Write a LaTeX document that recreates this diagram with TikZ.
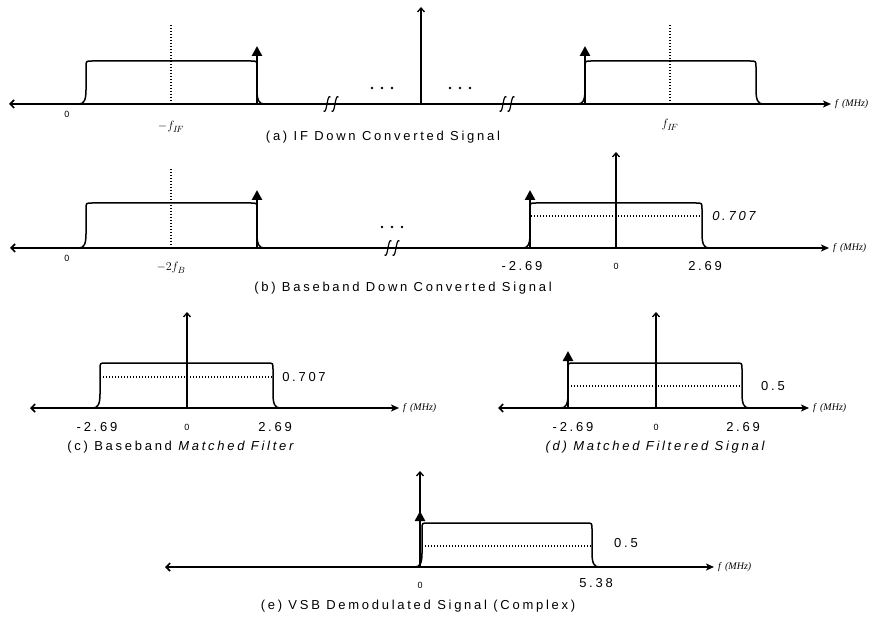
\documentclass[tikz,border=0pt]{standalone}
\usepackage{fontspec}
\setmainfont{Liberation Sans}
\newfontfamily\capfont[LetterSpace=21]{Liberation Sans}
\newfontfamily\serifit{Liberation Serif}
\usetikzlibrary{arrows.meta}
\tikzset{
  axisline/.style={line width=1.6pt, {Straight Barb[length=4pt,width=8pt]}-{Stealth[length=8pt,width=7pt,inset=2pt]}},
  vaxisline/.style={line width=1.3pt, -{Straight Barb[length=4pt,width=7pt]}},
  impulse/.style={line width=2.8pt, -{Triangle[length=10pt,width=10pt]}},
  bandline/.style={line width=1.5pt},
  dotline/.style={line width=1.1pt, dash pattern=on 1pt off 2pt},
  brkline/.style={line width=1.2pt},
  captext/.style={font=\capfont\fontsize{13}{15}\selectfont, inner sep=0},
  numtext/.style={font=\capfont\fontsize{13}{15}\selectfont, inner sep=0},
  zerotext/.style={font=\fontsize{9}{10}\selectfont, inner sep=0},
  mlab/.style={font=\fontsize{13}{15}\selectfont, inner sep=0},
  unittext/.style={font=\serifit\itshape\fontsize{10}{12}\selectfont, anchor=west, inner sep=0},
}
\newcommand\drawband[4]{%
  \draw[bandline] (#1,#4) .. controls ({#1+5},#4) and ({#1+7},{#4-4}) .. ({#1+7},{#4-14})
    -- ({#1+7},{#3+6}) .. controls ({#1+7},#3) .. ({#1+13},#3)
    -- ({#2-13},#3) .. controls ({#2-7},#3) .. ({#2-7},{#3+6})
    -- ({#2-7},{#4-14}) .. controls ({#2-7},{#4-4}) and ({#2-5},#4) .. (#2,#4);}
\newcommand\brkmark[2]{%
  \draw[brkline] ({#1-3.5},{#2+7}) .. controls ({#1-1.5},{#2+9}) and ({#1-0.8},{#2+4}) .. (#1,#2)
    .. controls ({#1+0.8},{#2-4}) and ({#1+1.5},{#2-9}) .. ({#1+3.5},{#2-7});}
\newcommand\threedots[2]{%
  \fill ({#1-10},#2) circle (1.3) (#1,#2) circle (1.3) ({#1+10},#2) circle (1.3);}
\begin{document}
\begin{tikzpicture}[x=1pt,y=-1pt]
\useasboundingbox (0,0) rectangle (888,617);
% ---------------- (a) ----------------
\coordinate (aL) at (9,104); \coordinate (aR) at (831,104);
\draw[axisline] (aL) -- (aR);
\coordinate (aO) at (421,104); \coordinate (aT) at (421,7);
\draw[vaxisline] (aO) -- (aT);
\drawband{79}{264}{61}{104}
\drawband{578}{763}{61}{104}
\coordinate (aI1b) at (257,104); \coordinate (aI1t) at (257,46);
\draw[impulse] (aI1b) -- (aI1t);
\coordinate (aI2b) at (585,104); \coordinate (aI2t) at (585,46);
\draw[impulse] (aI2b) -- (aI2t);
\coordinate (aD1b) at (171,104); \coordinate (aD1t) at (171,24);
\draw[dotline] (aD1b) -- (aD1t);
\coordinate (aD2b) at (670,104); \coordinate (aD2t) at (670,24);
\draw[dotline] (aD2b) -- (aD2t);
\brkmark{327}{104}\brkmark{335}{104}
\brkmark{503}{104}\brkmark{511}{104}
\threedots{382}{88}
\threedots{460}{88}
\node[zerotext] (a0) at (67,114) {0};
\node[mlab] (afm) at (171,127) {$-f_{I\!F}$};
\node[mlab] (afp) at (670,125) {$f_{I\!F}$};
\node[unittext] (aunit) at (835,104) {f\, (MHz)};
\node[captext] (acap) at (383,137) {(a) IF Down Converted Signal};
% ---------------- (b) ----------------
\coordinate (bL) at (10,248); \coordinate (bR) at (829,248);
\draw[axisline] (bL) -- (bR);
\coordinate (bO) at (616,248); \coordinate (bT) at (616,152);
\draw[vaxisline] (bO) -- (bT);
\drawband{79}{264}{203}{248}
\drawband{523}{709}{203}{248}
\coordinate (bI1b) at (257,248); \coordinate (bI1t) at (257,190);
\draw[impulse] (bI1b) -- (bI1t);
\coordinate (bI2b) at (530,248); \coordinate (bI2t) at (530,190);
\draw[impulse] (bI2b) -- (bI2t);
\coordinate (bD1b) at (171,248); \coordinate (bD1t) at (171,168);
\draw[dotline] (bD1b) -- (bD1t);
\coordinate (bH1) at (531,216); \coordinate (bH2) at (702,216);
\draw[dotline] (bH1) -- (bH2);
\brkmark{388}{248}\brkmark{396}{248}
\threedots{392}{227}
\node[zerotext] (b0l) at (67,258) {0};
\node[mlab] (bfm) at (171,268) {$-2f_{B}$};
\node[numtext] (bm) at (522,266) {-2.69};
\node[zerotext] (b0) at (616,266) {0};
\node[numtext] (bp) at (705,266) {2.69};
\node[numtext,font=\capfont\itshape\fontsize{13}{15}\selectfont] (bv) at (734,216) {0.707};
\node[unittext] (bunit) at (833,248) {f\, (MHz)};
\node[captext] (bcap) at (403,288) {(b) Baseband Down Converted Signal};
% ---------------- (c) ----------------
\coordinate (cL) at (30,408); \coordinate (cR) at (399,408);
\draw[axisline] (cL) -- (cR);
\coordinate (cO) at (187,408); \coordinate (cT) at (187,312);
\draw[vaxisline] (cO) -- (cT);
\drawband{93}{280}{363}{408}
\coordinate (cH1) at (100,377); \coordinate (cH2) at (273,377);
\draw[dotline] (cH1) -- (cH2);
\node[numtext] (cm) at (97,427) {-2.69};
\node[zerotext] (c0) at (187,427) {0};
\node[numtext] (cp) at (275,427) {2.69};
\node[numtext] (cv) at (304,377) {0.707};
\node[unittext] (cunit) at (403,408) {f\, (MHz)};
\node[captext] (ccap) at (182,447) {(c) Baseband \textit{Matched Filter}};
% ---------------- (d) ----------------
\coordinate (dL) at (498,408); \coordinate (dR) at (809,408);
\draw[axisline] (dL) -- (dR);
\coordinate (dO) at (656,408); \coordinate (dT) at (656,312);
\draw[vaxisline] (dO) -- (dT);
\drawband{561}{749}{363}{408}
\coordinate (dIb) at (568,408); \coordinate (dIt) at (568,351);
\draw[impulse] (dIb) -- (dIt);
\coordinate (dH1) at (568,386); \coordinate (dH2) at (742,386);
\draw[dotline] (dH1) -- (dH2);
\node[numtext] (dm) at (573,427) {-2.69};
\node[zerotext] (d0) at (656,427) {0};
\node[numtext] (dp) at (743,427) {2.69};
\node[numtext] (dv) at (773,386) {0.5};
\node[unittext] (dunit) at (813,408) {f\, (MHz)};
\node[captext,font=\capfont\itshape\fontsize{13}{15}\selectfont] (dcap) at (655,447) {(d) Matched Filtered Signal};
% ---------------- (e) ----------------
\coordinate (eL) at (165,567); \coordinate (eR) at (714,567);
\draw[axisline] (eL) -- (eR);
\coordinate (eO) at (420,567); \coordinate (eT) at (420,471);
\draw[vaxisline] (eO) -- (eT);
\drawband{415}{599}{523}{567}
\coordinate (eIb) at (420,567); \coordinate (eIt) at (420,511);
\draw[impulse] (eIb) -- (eIt);
\coordinate (eH1) at (422,546); \coordinate (eH2) at (592,546);
\draw[dotline] (eH1) -- (eH2);
\node[zerotext] (e0) at (420,585) {0};
\node[numtext] (ep) at (596,583) {5.38};
\node[numtext] (ev) at (626,543) {0.5};
\node[unittext] (eunit) at (718,567) {f\, (MHz)};
\node[captext] (ecap) at (418,606) {(e) VSB Demodulated Signal (Complex)};
\end{tikzpicture}
\end{document}
